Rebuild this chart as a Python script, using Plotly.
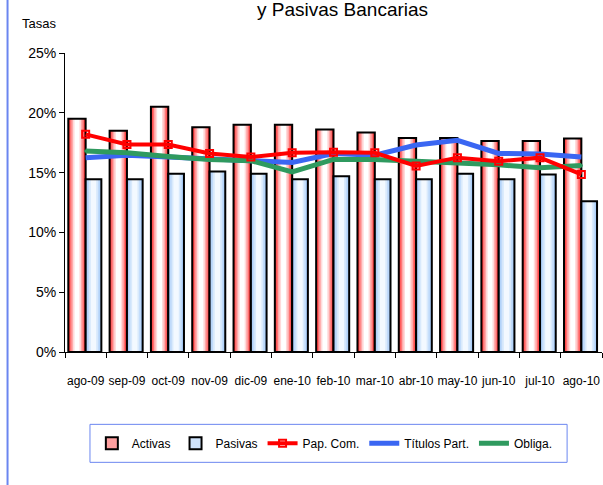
import plotly.graph_objects as go

months = ["ago-09", "sep-09", "oct-09", "nov-09", "dic-09", "ene-10", "feb-10",
          "mar-10", "abr-10", "may-10", "jun-10", "jul-10", "ago-10"]

activas = [19.5, 18.5, 20.5, 18.8, 19.0, 19.0, 18.6, 18.35, 17.9, 17.9, 17.65, 17.65, 17.85]
pasivas = [14.45, 14.45, 14.9, 15.1, 14.9, 14.45, 14.7, 14.45, 14.45, 14.9, 14.45, 14.85, 12.6]
pap_com = [18.2, 17.35, 17.35, 16.6, 16.3, 16.65, 16.7, 16.65, 15.55, 16.25, 15.95, 16.25, 14.85]
titulos = [16.25, 16.45, 16.3, 16.2, 16.0, 15.85, 16.6, 16.45, 17.3, 17.7, 16.6, 16.55, 16.3]
obliga = [16.8, 16.65, 16.35, 16.1, 16.0, 15.05, 16.1, 16.1, 15.95, 15.85, 15.65, 15.4, 15.6]

y_ticks = [0, 5, 10, 15, 20, 25]
y_tick_text = ["0%", "5%", "10%", "15%", "20%", "25%"]

FONT = "Liberation Sans, Arial, sans-serif"

fig = go.Figure()

def gradient_bars(values, base_offset, base_width, colors, fracs, legend_name, legend_color, rank):
    for c, f in zip(colors, fracs):
        w = base_width * f
        off = base_offset + base_width * (1 - f) / 2
        fig.add_trace(go.Bar(x=months, y=values, width=w, offset=off,
                             marker=dict(color=c, line=dict(width=0)),
                             showlegend=False, hoverinfo="skip"))
    fig.add_trace(go.Bar(x=months, y=values, width=base_width, offset=base_offset,
                         marker=dict(color="rgba(0,0,0,0)", line=dict(color="black", width=2)),
                         showlegend=False, hoverinfo="skip"))
    fig.add_trace(go.Bar(x=months, y=[None] * len(months), name=legend_name,
                         marker=dict(color=legend_color, line=dict(color="black", width=2)),
                         showlegend=True, legendrank=rank))

gradient_bars(activas, -0.42, 0.42,
              ["#ff3030", "#ff7070", "#ffaaaa", "#ffdada", "#ffffff"],
              [1.0, 0.82, 0.64, 0.46, 0.28], "Activas", "#ffa0a0", 1)
gradient_bars(pasivas, 0.0, 0.38,
              ["#a4caf8", "#bfdafa", "#d9eafc", "#f3f9ff"],
              [1.0, 0.78, 0.56, 0.34], "Pasivas", "#cfe3fb", 2)

fig.add_trace(go.Scatter(x=months, y=titulos, name="Títulos Part.", mode="lines",
                         line=dict(color="#3a66f2", width=5), legendrank=4))
fig.add_trace(go.Scatter(x=months, y=obliga, name="Obliga.", mode="lines+markers",
                         line=dict(color="#2f9a5f", width=5),
                         marker=dict(size=3, color="#2f9a5f"), legendrank=5))
fig.add_trace(go.Scatter(x=months, y=pap_com, name="Pap. Com.", mode="lines+markers",
                         line=dict(color="#ff0000", width=4),
                         marker=dict(symbol="square-open", size=7, color="#ff0000",
                                     line=dict(width=2)), legendrank=3))

fig.update_layout(
    width=603, height=485,
    margin=dict(l=65, r=1, t=53, b=133),
    barmode="overlay",
    plot_bgcolor="white", paper_bgcolor="white",
    font=dict(family=FONT, color="black"),
    showlegend=True,
    legend=dict(orientation="h", x=0.05, xanchor="left", y=-0.305, yanchor="middle",
                borderwidth=0, font=dict(size=12, family=FONT),
                itemwidth=30, traceorder="normal", bgcolor="rgba(0,0,0,0)"),
    xaxis=dict(type="category", showline=True, linecolor="black", linewidth=1,
               ticks="outside", ticklen=5, tickcolor="black", tickson="boundaries",
               tickfont=dict(size=12, family=FONT), ticklabelstandoff=18, tickangle=0,
               showgrid=False, range=[-0.5, 12.5], automargin=False),
    yaxis=dict(range=[0, 25], tickvals=y_ticks, ticktext=y_tick_text,
               showline=True, linecolor="black", linewidth=1, ticks="outside",
               ticklen=5, tickcolor="black", tickfont=dict(size=14, family=FONT),
               showgrid=False, zeroline=False, automargin=False),
    annotations=[
        dict(text="y Pasivas Bancarias", xref="paper", yref="paper", x=0.517, y=1.147,
             xanchor="center", yanchor="middle", showarrow=False,
             font=dict(size=19, family=FONT)),
        dict(text="Tasas", xref="paper", yref="paper", x=-0.049, y=1.099,
             xanchor="center", yanchor="middle", showarrow=False,
             font=dict(size=13, family=FONT)),
    ],
    shapes=[
        dict(type="line", xref="paper", yref="paper", x0=-0.107, x1=-0.107,
             y0=-0.5, y1=1.3, line=dict(color="#6b86f0", width=2)),
        dict(type="rect", xref="paper", yref="paper", x0=0.0465, x1=0.935,
             y0=-0.369, y1=-0.242, line=dict(color="#6b86f0", width=1)),
    ],
)

fig.write_html("out.html", config={"displayModeBar": False},
               post_script="document.body.style.margin='0';document.body.style.padding='0';")
